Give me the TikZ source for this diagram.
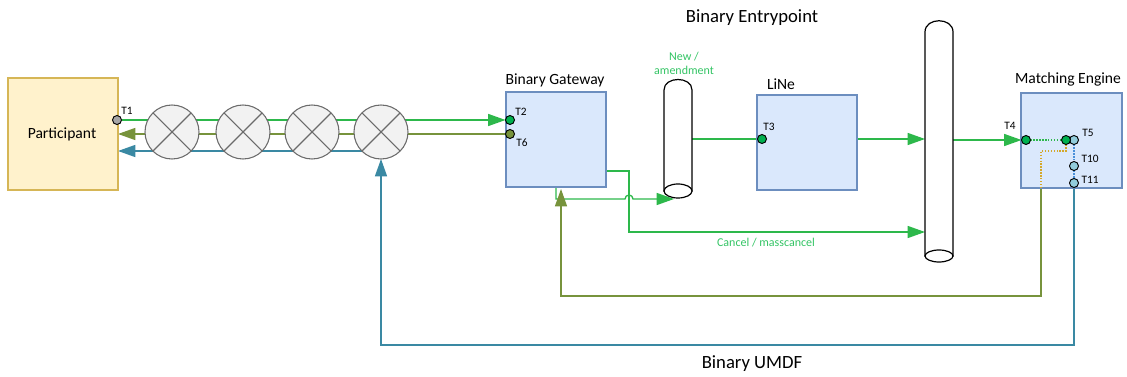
\documentclass[tikz,border=0pt]{standalone}
\usepackage{fontspec}
\setmainfont{Carlito}
\usetikzlibrary{arrows.meta,calc}
\definecolor{gline}{HTML}{2DB84B}
\definecolor{gtext}{HTML}{33C464}
\definecolor{oline}{HTML}{77933C}
\definecolor{tline}{HTML}{3A89A3}
\definecolor{pfill}{HTML}{FFF2CC}
\definecolor{pdraw}{HTML}{D6B656}
\definecolor{bfill}{HTML}{DAE8FC}
\definecolor{bdraw}{HTML}{6C8EBF}
\definecolor{cfill}{HTML}{F2F2F2}
\definecolor{cdraw}{HTML}{6B6B6B}
\definecolor{portg}{HTML}{00B050}
\definecolor{portb}{HTML}{92CDDC}
\definecolor{dotor}{HTML}{D4A82A}
\definecolor{dotbl}{HTML}{4A90D9}
\pgfdeclarelayer{bg}
\pgfdeclarelayer{front}
\pgfsetlayers{bg,main,front}
\tikzset{
  arr/.style={-{Triangle[length=13pt,width=9pt]}},
  conn/.style={line width=1pt},
  dots/.style={line width=1pt,dash pattern=on 1pt off 1.2pt},
  pbox/.style={draw=pdraw,fill=pfill,line width=0.8pt,minimum width=82.5pt,minimum height=84pt,inner sep=0pt,outer sep=0pt},
  bbox/.style={draw=bdraw,fill=bfill,line width=0.8pt,minimum height=71.25pt,inner sep=0pt,outer sep=0pt},
  xcirc/.style={circle,draw=cdraw,fill=cfill,line width=0.8pt,minimum size=40.5pt,inner sep=0pt,outer sep=0pt},
  port/.style={circle,draw=black,line width=0.7pt,minimum size=6.75pt,inner sep=0pt,outer sep=0pt},
  plabel/.style={font=\fontsize{8.5}{9}\selectfont,inner sep=0pt},
  blabel/.style={font=\fontsize{11.7}{13}\selectfont,inner sep=0pt},
  title/.style={font=\fontsize{14}{16}\selectfont,inner sep=0pt},
  glabel/.style={font=\fontsize{9}{10.5}\selectfont,text=gtext,inner sep=0pt,align=center},
  cylarea/.style={inner sep=0pt,outer sep=0pt,minimum width=21pt}
}
\begin{document}
\begin{tikzpicture}[x=0.75pt,y=-0.75pt]
\useasboundingbox (0,0) rectangle (1127,377);

% boxes
\node[pbox] (P) at (63,134) {};
\node[blabel] (Ptxt) at (62,134) {Participant};
\node[bbox,minimum width=75pt] (G) at (556,139.5) {};
\node[blabel] (Gtxt) at (555,80) {Binary Gateway};
\node[bbox,minimum width=75pt] (L) at (807,142.5) {};
\node[blabel] (Ltxt) at (781,84) {LiNe};
\node[bbox,minimum width=75.75pt] (M) at (1071.5,140.5) {};
\node[blabel] (Mtxt) at (1068,79) {Matching Engine};

\node[title] (t1) at (752,18) {Binary Entrypoint};
\node[title] (t2) at (752,364) {Binary UMDF};

% cross circles
\foreach \i/\x in {1/172,2/243,3/312,4/381}{
  \node[xcirc] (c\i) at (\x,132) {};
  \draw[cdraw,line width=0.8pt] (c\i.north east) -- (c\i.south west) (c\i.north west) -- (c\i.south east);
}

% cylinders
\node[cylarea,minimum height=90pt] (cyl1) at (678,138) {};
\draw[line width=0.9pt,fill=white] (664,90) .. controls (664,76) and (692,76) .. (692,90) -- (692,191) -- (664,191) -- cycle;
\draw[line width=0.9pt,fill=white] (678,191) ellipse [x radius=14, y radius=7];
\node[cylarea,minimum height=181.5pt] (cyl2) at (939,141) {};
\draw[line width=0.9pt,fill=white] (925,32) .. controls (925,17) and (953,17) .. (953,32) -- (953,256) -- (925,256) -- cycle;
\draw[line width=0.9pt,fill=white] (939,256) ellipse [x radius=14, y radius=6];

% ports
\begin{pgfonlayer}{front}
\node[port,fill=gray!70] (T1) at (117,120) {};
\node[port,fill=portg] (T2) at (510,120) {};
\node[port,fill=oline] (T6) at (510,134) {};
\node[port,fill=portg] (T3) at (762,139) {};
\node[port,fill=portg] (T4) at (1026,140) {};
\node[port,fill=portb] (T5b) at (1074,140) {};
\node[port,fill=portg] (T5g) at (1066,140) {};
\node[port,fill=portb] (T10) at (1074,166) {};
\node[port,fill=portb] (T11) at (1074,183) {};
\end{pgfonlayer}
\node[plabel] (T1l) at (127,111) {T1};
\node[plabel] (T2l) at (521,112) {T2};
\node[plabel] (T6l) at (522,143) {T6};
\node[plabel] (T3l) at (769,127) {T3};
\node[plabel] (T4l) at (1010,126) {T4};
\node[plabel] (T5l) at (1088,133) {T5};
\node[plabel] (T10l) at (1090,159) {T10};
\node[plabel] (T11l) at (1090,180) {T11};

% green labels
\node[glabel] (newl) at (684,63) {New /\\amendment};
\node[glabel] (canl) at (766,243) {Cancel / masscancel};

% coordinates
\coordinate (ty) at (381,151);
\coordinate (gr) at (606,171);
\coordinate (gb) at (556,187);
\coordinate (olive) at (1041,188);

% internal dotted (above box fill, below ports)
\draw[gline,dots] (T4) -- (T5g);
\draw[dotor,dots] (T5g) -- (1066,151) -- (1041,151) -- (olive);
\draw[dotbl,dots] (T5b) -- (T10) -- (T11);

\begin{pgfonlayer}{bg}
% participant links
\draw[conn,gline,arr] (T1) -- (T2.west);
\draw[conn,oline,arr] (T6) -- (P.east |- T6);
\draw[conn,tline,arr] (ty) -- (P.east |- ty);
% entrypoint links
\draw[conn,gline] (cyl1.east |- T3) -- (T3);
\draw[conn,gline,arr] (L.east |- T3) -- (cyl2.west |- T3);
\draw[conn,gline,arr] (cyl2.east |- T4) -- (T4.west);
\draw[conn,gline,arr] (gr) -- (629,171) -- (629,232) -- (cyl2.west |- 0,232);
\draw[conn,gline,arr] (gb) -- (556,199) -- (625,199) arc[start angle=180,end angle=0,radius=3pt] -- (674,199);
% feedback
\draw[conn,oline,arr] (olive) -- (1041,296) -- (561,296) -- (561,189);
\draw[conn,tline,arr] (T11) -- (1074,345) -- (381,345) -- (c4.south);
\end{pgfonlayer}
\end{tikzpicture}
\end{document}
